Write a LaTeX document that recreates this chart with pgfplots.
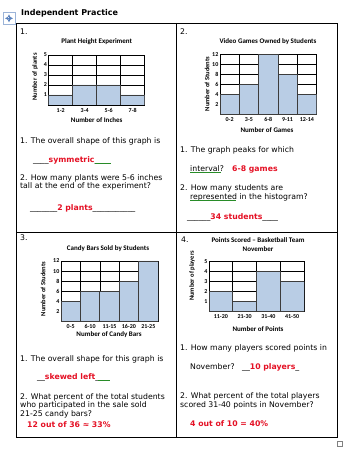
\documentclass[border=0pt]{standalone}
\usepackage{pgfplots}
\pgfplotsset{compat=1.18}
\usepackage{fontspec}
\setmainfont{DejaVu Sans}
\newfontfamily\cf{Carlito}
\usetikzlibrary{decorations.pathmorphing}
\definecolor{barblue}{RGB}{185,205,229}
\definecolor{bardark}{RGB}{60,60,60}
\definecolor{ansred}{RGB}{228,16,36}
\definecolor{squig}{RGB}{40,140,40}
\definecolor{iconblue}{RGB}{90,130,190}
\newcommand{\bt}{\fontsize{7.75}{9}\selectfont}
\newcommand{\rb}[1]{\textcolor{ansred}{\bfseries #1}}
\newcommand{\ct}{\cf\bfseries\fontsize{7}{8}\selectfont}
\newcommand{\cy}{\cf\bfseries\fontsize{6.5}{7}\selectfont}
\pgfplotsset{
  hist/.style={
    scale only axis,
    xmin=0, ymin=0,
    axis line style={black, line width=0.7pt},
    major grid style={black, line width=0.6pt},
    minor grid style={black, line width=0.6pt},
    ymajorgrids, xminorgrids,
    major tick length=0pt, minor tick length=0pt,
    /pgf/number format/assume math mode=true,
    ticklabel style={font=\cf\bfseries\fontsize{6}{6.5}\selectfont, inner sep=0pt},
    xticklabel style={anchor=north, yshift=-3pt},
    yticklabel style={anchor=east, xshift=-1.5pt},
  },
  histbar/.style={ybar interval, fill=barblue, draw=bardark, line width=0.8pt},
}
\begin{document}
\begin{tikzpicture}[x=1pt,y=1pt]
\useasboundingbox (0,0) rectangle (354,449);
% header
\draw[iconblue!60, line width=0.6pt, fill=white] (3,425) rectangle (15,436.3);
\draw[iconblue, line width=0.6pt, <->, >=stealth] (5,430.7)--(13,430.7);
\draw[iconblue, line width=0.6pt, <->, >=stealth] (9,426.7)--(9,434.7);
\node[anchor=west, inner sep=0pt, font=\bfseries\fontsize{8}{9}\selectfont] at (21,436) {Independent Practice};
% table
\draw[line width=0.8pt] (16,426) rectangle (337,12);
\draw[line width=0.8pt] (176,426)--(176,12);
\draw[line width=0.8pt] (16,217)--(337,217);
\draw[gray, line width=0.5pt] (337.5,3) rectangle (342.5,8);
\begin{scope}[every node/.style={anchor=west, inner sep=0pt, font=\bt}]
\node at (20,417) {1.};
\node at (180,417) {2.};
\node at (20,211) {3.};
\node at (181,209) {4.};
% cell 1
\node at (20,308) {1. The overall shape of this graph is};
\node at (33,289) {\_\_\_\_\rb{symmetric}\_\_\_\_};
\node at (20,271) {2. How many plants were 5-6 inches};
\node at (20,263) {tall at the end of the experiment?};
\node at (30,241) {\_\_\_\_\_\_\_\rb{2 plants}\_\_\_\_\_\_\_\_\_\_\_};
% cell 2
\node at (180,299) {1. The graph peaks for which};
\node at (190,280) {interval?};
\node at (232,280) {\rb{6-8 games}};
\node at (180,261) {2. How many students are};
\node at (190,252) {represented in the histogram?};
\node at (187,232) {\_\_\_\_\_\_\rb{34 students}\_\_\_\_};
% cell 3
\node at (20,90) {1. The overall shape for this graph is};
\node at (37,72) {\_\_\rb{skewed left}\_\_\_};
\node at (20,52) {2. What percent of the total students};
\node at (20,44) {who participated in the sale sold};
\node at (20,35) {21-25 candy bars?};
\node at (27,24) {\rb{12 out of 36 ≈ 33\%}};
% cell 4
\node at (180,101) {1. How many players scored points in};
\node at (190,82) {November?};
\node at (242,82) {\_\_\rb{10 players}\_};
\node at (180,53) {2. What percent of the total players};
\node at (180,44) {scored 31-40 points in November?};
\node at (190,25) {\rb{4 out of 10 = 40\%}};
\end{scope}
% squiggles
\begin{scope}[squig, line width=0.4pt, decorate, decoration={snake, amplitude=0.6pt, segment length=2pt}]
\draw (95,286)--(111,286);
\draw (190,277)--(221,277);
\draw (190,249)--(236,249);
\draw (98,69)--(110,69);
\end{scope}
% chart 1
\begin{axis}[hist, at={(48.7pt,344pt)}, anchor=south west, width=96pt, height=50pt,
  xmax=4, ymax=5, ytick={1,2,3,4,5},
  xtick={0.5,1.5,2.5,3.5}, xticklabels={1-2,3-4,5-6,7-8}, minor xtick={1,2,3}]
\addplot[histbar] coordinates {(0,1)(1,2)(2,2)(3,1)(4,1)};
\end{axis}
% chart 2
\begin{axis}[hist, at={(220pt,334.5pt)}, anchor=south west, width=96.5pt, height=60pt,
  xmax=5, ymax=12, ytick={2,4,6,8,10,12},
  xtick={0.5,1.5,2.5,3.5,4.5}, xticklabels={0-2,3-5,6-8,9-11,12-14}, minor xtick={1,2,3,4}]
\addplot[histbar] coordinates {(0,4)(1,6)(2,12)(3,8)(4,4)(5,4)};
\end{axis}
% chart 3
\begin{axis}[hist, at={(61pt,127.3pt)}, anchor=south west, width=97pt, height=60.7pt,
  xmax=5, ymax=12, ytick={2,4,6,8,10,12},
  xtick={0.5,1.5,2.5,3.5,4.5}, xticklabels={0-5,6-10,11-15,16-20,21-25}, minor xtick={1,2,3,4}]
\addplot[histbar] coordinates {(0,4)(1,6)(2,6)(3,8)(4,12)(5,12)};
\end{axis}
% chart 4
\begin{axis}[hist, at={(209pt,137.3pt)}, anchor=south west, width=95pt, height=50pt,
  xmax=4, ymax=5, ytick={1,2,3,4,5},
  xtick={0.5,1.5,2.5,3.5}, xticklabels={11-20,21-30,31-40,41-50}, minor xtick={1,2,3}]
\addplot[histbar] coordinates {(0,2)(1,1)(2,4)(3,3)(4,3)};
\end{axis}
% chart titles and labels
\begin{scope}[every node/.style={inner sep=0pt, font=\ct}]
\node at (96.7,407) {Plant Height Experiment};
\node at (96.7,329) {Number of Inches};
\node[rotate=90, font=\cy] at (35,372) {Number of plants};
\node at (268,407) {Video Games Owned by Students};
\node at (267,319) {Number of Games};
\node[rotate=90, font=\cy] at (207,365) {Number of Students};
\node at (108,200) {Candy Bars Sold by Students};
\node at (109,114) {Number of Candy Bars};
\node[rotate=90, font=\cy] at (43,160) {Number of Students};
\node at (258,209) {Points Scored – Basketball Team};
\node at (258,200) {November};
\node at (258,120) {Number of Points};
\node[rotate=90, font=\cy] at (192,173) {Number of players};
\end{scope}
\end{tikzpicture}
\end{document}
